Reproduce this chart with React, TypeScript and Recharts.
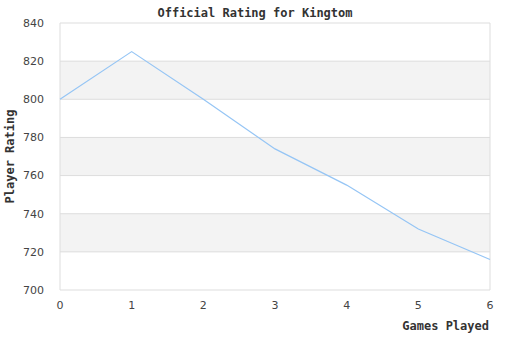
import { LineChart, Line, XAxis, YAxis, CartesianGrid } from "recharts";

const games = [0, 1, 2, 3, 4, 5, 6];
const ratings = [800, 825, 800, 774, 755, 732, 716];
const yTicks = [700, 720, 740, 760, 780, 800, 820, 840];

const data = games.map((g, i) => ({ game: g, rating: ratings[i] }));

const mono = "'DejaVu Sans Mono', monospace";
const sans = "'DejaVu Sans', sans-serif";

const labelText = {
  position: "absolute" as const,
  lineHeight: "14px",
  fontFamily: mono,
  fontWeight: "bold",
  fontSize: 12,
  color: "#333",
};

export default function App() {
  return (
    <div style={{ position: "absolute", left: 0, top: 0, width: 510, height: 340, background: "#fff" }}>
      <div style={{ ...labelText, left: 0, top: 6, width: 510, textAlign: "center" }}>
        Official Rating for Kingtom
      </div>
      <LineChart width={510} height={340} data={data} margin={{ top: 23, right: 20, bottom: 0, left: 0 }}>
        <CartesianGrid
          stroke="#dddddd"
          horizontalFill={["#ffffff", "#f3f3f3"]}
          verticalCoordinatesGenerator={({ offset }) => [offset.left, offset.left + offset.width]}
        />
        <XAxis
          dataKey="game"
          type="number"
          domain={[0, 6]}
          ticks={games}
          height={50}
          axisLine={false}
          tickLine={false}
          tick={{ fontFamily: sans, fontSize: 11, fill: "#444" }}
          tickMargin={5}
        />
        <YAxis
          domain={[700, 840]}
          ticks={yTicks}
          width={60}
          axisLine={false}
          tickLine={false}
          tick={{ fontFamily: sans, fontSize: 11, fill: "#444" }}
          tickMargin={10}
          label={{
            value: "Player Rating",
            angle: -90,
            position: "insideLeft",
            offset: 10,
            style: { fontFamily: mono, fontWeight: "bold", fontSize: 12, fill: "#333", textAnchor: "middle" },
          }}
        />
        <Line
          type="linear"
          dataKey="rating"
          stroke="#95c5f5"
          strokeWidth={1.2}
          dot={false}
          isAnimationActive={false}
        />
      </LineChart>
      <div style={{ ...labelText, left: 300, top: 319, width: 189, textAlign: "right" }}>Games Played</div>
    </div>
  );
}
